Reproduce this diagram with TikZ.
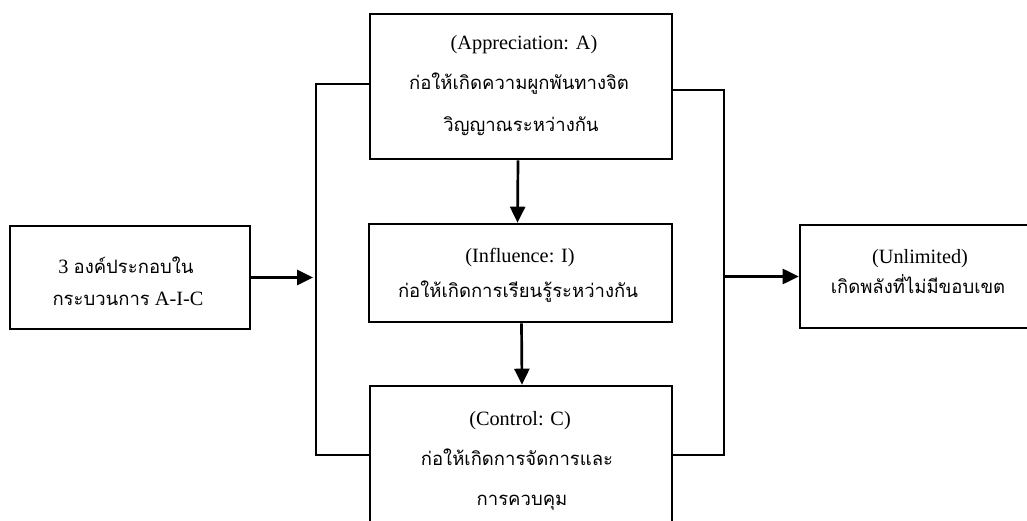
\documentclass[tikz,border=0pt]{standalone}
\usepackage{fontspec}
\setmainfont{Liberation Serif}
\newfontfamily\thaifont[Script=Thai]{Loma}
\usetikzlibrary{arrows.meta}
% Thai words set in a Thai face, inside Latin lines
\newcommand\thaitxt[1]{{\thaifont\fontsize{18.5}{22}\selectfont #1}}
\begin{document}
\begin{tikzpicture}[x=1pt,y=-1pt,
  box/.style={draw, line width=2.6pt, inner sep=0pt, fill=white},
  link/.style={line width=2.7pt},
  flow/.style={link, -{Triangle[length=16pt,width=15pt]}},
  en/.style={font=\fontsize{20.3}{24}\selectfont, anchor=base, inner sep=0pt},
  th/.style={font=\thaifont\fontsize{18.5}{22}\selectfont, anchor=base, inner sep=0pt}]
\path[use as bounding box] (0,0) rectangle (1027,521);
\clip (0,0) rectangle (1027,521);
\fill[white] (0,0) rectangle (1027,521);

% boxes
\node[box, minimum width=240pt, minimum height=103pt] (L) at (130,277.5) {};
\node[box, minimum width=302pt, minimum height=145pt] (A) at (521,86.5) {};
\node[box, minimum width=303pt, minimum height=98pt]  (I) at (520.5,273) {};
\node[box, minimum width=302pt, minimum height=214pt] (C) at (521,493) {};
\node[box, minimum width=236pt, minimum height=103pt] (U) at (918,276.5) {};

% box texts
\node[en] (L1) at (126,273) {3 \thaitxt{องค์ประกอบใน}};
\node[en] (L2) at (128,305) {\thaitxt{กระบวนการ} A-I-C};

\node[en] (A1) at (524,50) {(Appreciation: A)};
\node[th] (A2) at (519,90) {ก่อให้เกิดความผูกพันทางจิต};
\node[th] (A3) at (521,132) {วิญญาณระหว่างกัน};

\node[en] (I1) at (520,262) {(Influence: I)};
\node[th] (I2) at (518,297) {ก่อให้เกิดการเรียนรู้ระหว่างกัน};

\node[en] (C1) at (520,425) {(Control: C)};
\node[th] (C2) at (517,465) {ก่อให้เกิดการจัดการและ};
\node[th] (C3) at (522,505) {การควบคุม};

\node[en] (U1) at (920,263) {(Unlimited)};
\node[th] (U2) at (918,293) {เกิดพลังที่ไม่มีขอบเขต};

% bus lines
\coordinate (lbTop) at (316,84);
\coordinate (lbBot) at (316,455);
\coordinate (rbTop) at (724,90);
\coordinate (rbBot) at (724,455);

\draw[link] (A.west |- lbTop) -- (lbTop) -- (lbBot) -- (C.west |- lbBot);
\draw[link] (A.east |- rbTop) -- (rbTop) -- (rbBot) -- (C.east |- rbBot);

% arrows
\draw[flow, shorten >=3pt] (L.east) -- (L.east -| lbTop);
\draw[flow] (U.west -| rbTop) -- (U.west);
\draw[flow] ([xshift=-3pt]A.south) -- ([xshift=-3pt]I.north);
\draw[flow] ([xshift=1pt]I.south) -- ([xshift=1pt]C.north);
\end{tikzpicture}
\end{document}
